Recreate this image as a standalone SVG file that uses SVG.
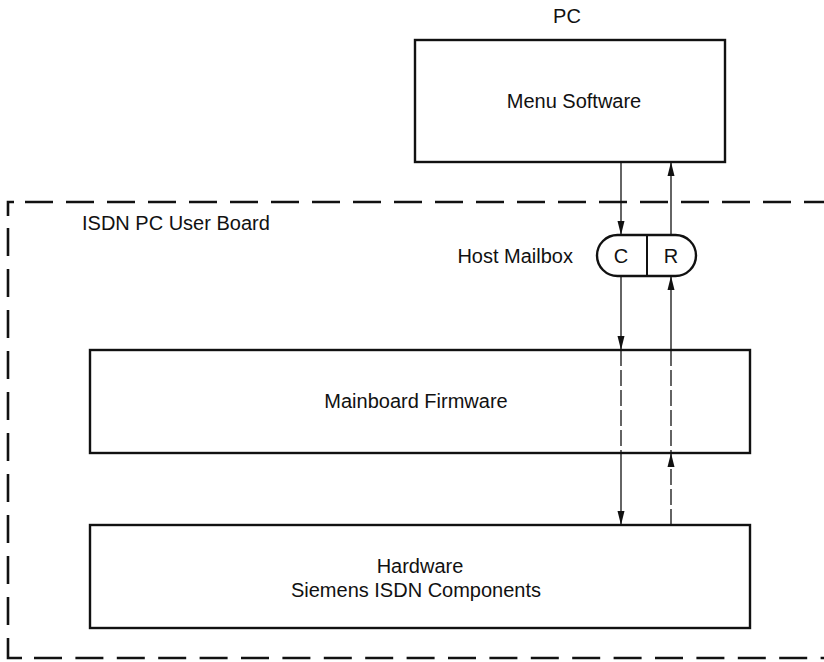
<svg xmlns="http://www.w3.org/2000/svg" width="824" height="662" viewBox="0 0 824 662">
<defs>
<style>
.box{fill:#fff;stroke:#111;stroke-width:2.4}
.border{fill:none;stroke:#111;stroke-width:2.6;stroke-dasharray:28 13}
.t{font-family:"Liberation Sans",Arial,sans-serif;font-size:20px;fill:#111}
.c{text-anchor:middle}
.ln{stroke:#111;stroke-width:1.3;fill:none}
.dl{stroke:#111;stroke-width:1.3;fill:none;stroke-dasharray:16 4}
</style>
<marker id="ah" viewBox="0 0 14 8" refX="14" refY="4" markerWidth="14" markerHeight="8" markerUnits="userSpaceOnUse" orient="auto">
<path d="M0,0.5 L14,4 L0,7.5 Z" fill="#111"/>
</marker>
</defs>
<rect width="824" height="662" fill="#fff"/>
<g id="board">
<path class="border" style="stroke-dasharray:none" d="M8,216 L8,202 L14,202"/>
<path class="border" d="M25,202 L824,202"/>
<path class="border" d="M8,228 L8,640"/>
<path class="border" style="stroke-dasharray:none" d="M8,640 L8,658 L22,658"/>
<path class="border" style="stroke-dasharray:28 13.4" d="M34,658 L824,658"/>
<text class="t" x="82" y="230">ISDN PC User Board</text>
</g>
<g id="pc">
<text class="t c" x="567" y="23">PC</text>
</g>
<g id="menu-software">
<rect class="box" x="415" y="40" width="310" height="122"/>
<text class="t c" x="574" y="108">Menu Software</text>
</g>
<g id="host-mailbox">
<text class="t" x="573" y="263" text-anchor="end">Host Mailbox</text>
<rect class="box" x="597" y="235" width="99" height="41" rx="20.5" ry="20.5"/>
<line class="ln" x1="647" y1="235" x2="647" y2="276" style="stroke-width:2"/>
<text class="t c" x="621" y="263">C</text>
<text class="t c" x="671" y="263">R</text>
</g>
<g id="mainboard-firmware">
<rect class="box" x="90" y="350" width="660" height="103"/>
<text class="t c" x="416" y="408">Mainboard Firmware</text>
</g>
<g id="hardware">
<rect class="box" x="90" y="525" width="660" height="103"/>
<text class="t c" x="420" y="573">Hardware</text>
<text class="t c" x="416" y="597">Siemens ISDN Components</text>
</g>
<g id="connectors">
<line class="ln" x1="621" y1="162" x2="621" y2="235" marker-end="url(#ah)"/>
<line class="ln" x1="671" y1="235" x2="671" y2="162" marker-end="url(#ah)"/>
<line class="ln" x1="621" y1="276" x2="621" y2="350" marker-end="url(#ah)"/>
<line class="ln" x1="671" y1="350" x2="671" y2="276" marker-end="url(#ah)"/>
<line class="dl" x1="621" y1="350" x2="621" y2="453"/>
<line class="dl" x1="671" y1="350" x2="671" y2="453"/>
<line class="ln" x1="621" y1="453" x2="621" y2="525" marker-end="url(#ah)"/>
<line class="dl" x1="671" y1="525" x2="671" y2="453" marker-end="url(#ah)"/>
</g>
</svg>
